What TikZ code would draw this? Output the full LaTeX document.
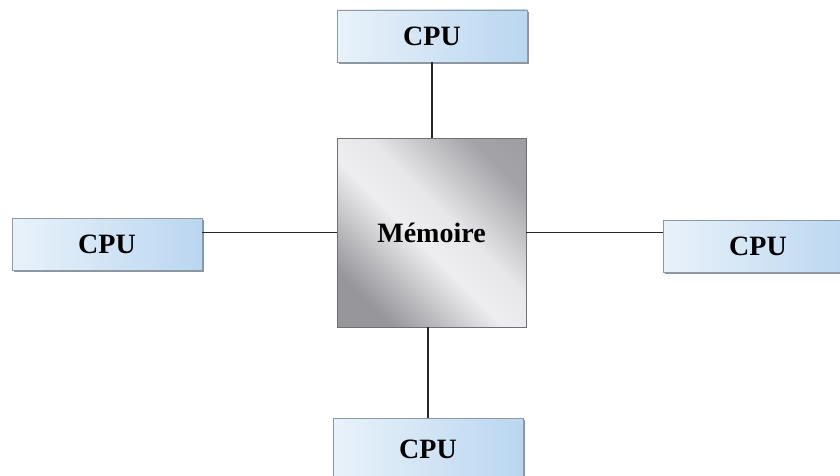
\documentclass[tikz,border=0pt]{standalone}
\usepackage{fontspec}
\setmainfont{Liberation Serif}
\usetikzlibrary{shadows}
\definecolor{cpuL}{HTML}{E9F2FA}
\definecolor{cpuR}{HTML}{BAD6F0}
\definecolor{cpuEdge}{HTML}{8C9AA8}
\definecolor{memDark}{HTML}{96969B}
\definecolor{memLight}{HTML}{EEEEF0}
\definecolor{memEdge}{HTML}{707070}
\pgfdeclarehorizontalshading{memshade}{100bp}{%
  color(0bp)=(memDark); color(25bp)=(memDark); color(46bp)=(memLight);
  color(56bp)=(memLight!92!memDark); color(75bp)=(memDark!85!memLight); color(100bp)=(memDark)}
\tikzset{
  cpubox/.style={draw=cpuEdge, line width=0.6pt, left color=cpuL, right color=cpuR,
    minimum width=190pt, minimum height=52pt, inner sep=0pt,
    font=\fontsize{28}{30}\selectfont\bfseries,
    drop shadow={shadow xshift=1.5pt, shadow yshift=-2pt, fill=cpuEdge!80!black, opacity=0.8}},
  membox/.style={draw=memEdge, line width=0.8pt, shading=memshade, shading angle=45,
    minimum width=189pt, minimum height=189pt, inner sep=0pt,
    font=\fontsize{28}{30}\selectfont\bfseries,
    drop shadow={shadow xshift=1pt, shadow yshift=-1pt, fill=gray, opacity=0.6}},
  link/.style={draw=black!85, line width=1.3pt}
}
\begin{document}
\begin{tikzpicture}[x=1pt, y=-1pt]
  \clip (0,0) rectangle (840,476);
  \fill[white] (0,0) rectangle (840,476);
  % central memory block
  \node[membox] (mem) at (431.5,232.5) {Mémoire};
  % the four processors around it
  \node[cpubox] (top) at (432,36) {CPU};
  \node[cpubox] (left) at (107,244) {CPU};
  \node[cpubox] (right) at (758,246) {CPU};
  \node[cpubox, minimum height=62pt] (bottom) at (428,449) {CPU};
  % connections between memory and processors
  \draw[link] (mem.north -| top.south) -- (top.south);
  \draw[link] (mem.west) -- (mem.west -| left.east);
  \draw[link] (mem.east) -- (mem.east -| right.west);
  \draw[link] (mem.south -| bottom.north) -- (bottom.north);
\end{tikzpicture}
\end{document}
